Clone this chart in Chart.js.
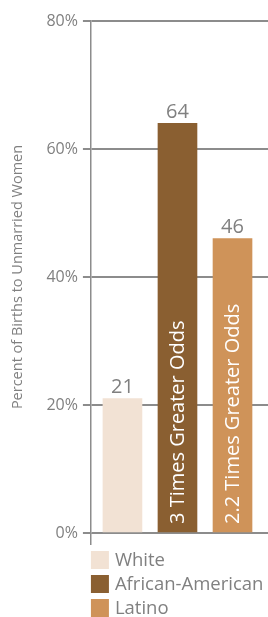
<!DOCTYPE html>
<html lang="en">
  <head>
    <meta charset="UTF-8" />
    <title>Births to Unmarried Women</title>
    <script src="https://cdn.jsdelivr.net/npm/chart.js@4.4.0/dist/chart.umd.min.js"></script>
    <style>
      html, body { margin: 0; padding: 0; background: #fff; }
      #wrap { width: 268px; height: 617px; }
    </style>
  </head>
  <body>
    <div id="wrap"><canvas id="chart" width="268" height="617"></canvas></div>
    <script>
      const categories = ['White', 'African-American', 'Latino'];
      const percents = [21, 64, 46];
      const barNotes = ['', '3 Times Greater Odds', '2.2 Times Greater Odds'];
      const barColors = ['#f2e2d4', '#8a5f31', '#cf9359'];
      const yTicks = [0, 20, 40, 60, 80];

      const grey = '#8c8c8c';
      const textGrey = '#808080';
      const font = '"Open Sans", sans-serif';

      // numbers over the bars + rotated notes inside them
      const barText = {
        id: 'barText',
        afterDatasetsDraw(chart) {
          const c = chart.ctx;
          const meta = chart.getDatasetMeta(0);
          const bottom = chart.chartArea.bottom;
          meta.data.forEach((bar, i) => {
            c.save();
            c.fillStyle = textGrey;
            c.font = '20px ' + font;
            c.textAlign = 'center';
            c.textBaseline = 'bottom';
            c.fillText(percents[i], bar.x, bar.y - 1);
            if (barNotes[i]) {
              c.translate(bar.x, bottom - 9);
              c.rotate(-Math.PI / 2);
              c.fillStyle = '#fff';
              c.font = '20px ' + font;
              c.textAlign = 'left';
              c.textBaseline = 'middle';
              c.fillText(barNotes[i], 0, 1);
            }
            c.restore();
          });
        }
      };

      // stacked legend under the plot, lined up with the axis
      const sideLegend = {
        id: 'sideLegend',
        afterDraw(chart) {
          const c = chart.ctx;
          const left = chart.chartArea.left;
          const top = chart.chartArea.bottom + 18;
          c.save();
          c.font = '18.5px ' + font;
          c.textBaseline = 'middle';
          categories.forEach((name, i) => {
            const y = top + i * 24;
            c.fillStyle = barColors[i];
            c.fillRect(left, y, 18, 18);
            c.fillStyle = textGrey;
            c.fillText(name, left + 24, y + 10);
          });
          c.restore();
        }
      };

      const ctx = document.getElementById('chart').getContext('2d');
      const chart = new Chart(ctx, {
        type: 'bar',
        data: {
          labels: categories,
          datasets: [
            {
              label: 'Percent of Births to Unmarried Women',
              data: percents.map((v, i) => ({ x: i + 1, y: v })),
              backgroundColor: barColors,
              barThickness: 39,
              borderWidth: 0,
            },
          ],
        },
        options: {
          responsive: false,
          animation: false,
          layout: { padding: { top: 21, right: 0, left: 9, bottom: 72 } },
          plugins: {
            legend: { display: false },
            tooltip: { enabled: false },
          },
          scales: {
            x: {
              type: 'linear',
              offset: false,
              min: 0.427,
              max: 3.645,
              ticks: { display: false },
              afterBuildTicks(scale) {
                scale.ticks = [{ value: scale.min }];
              },
              grid: { color: grey, lineWidth: 1.5, offset: false, drawOnChartArea: false, tickLength: 12 },
              border: { display: false },
            },
            y: {
              min: 0,
              max: 80,
              afterBuildTicks(scale) {
                scale.ticks = yTicks.map(v => ({ value: v }));
              },
              ticks: {
                color: textGrey,
                font: { family: font, size: 16 },
                padding: 5,
                callback: v => v + '%',
              },
              grid: { color: grey, lineWidth: 2, tickLength: 8 },
              border: { color: grey, width: 1.5 },
              title: {
                display: true,
                text: 'Percent of Births to Unmarried Women',
                color: textGrey,
                font: { family: font, size: 14.5 },
                padding: { top: 0, bottom: 15 },
              },
            },
          },
        },
        plugins: [barText, sideLegend],
      });
    </script>
  </body>
</html>
